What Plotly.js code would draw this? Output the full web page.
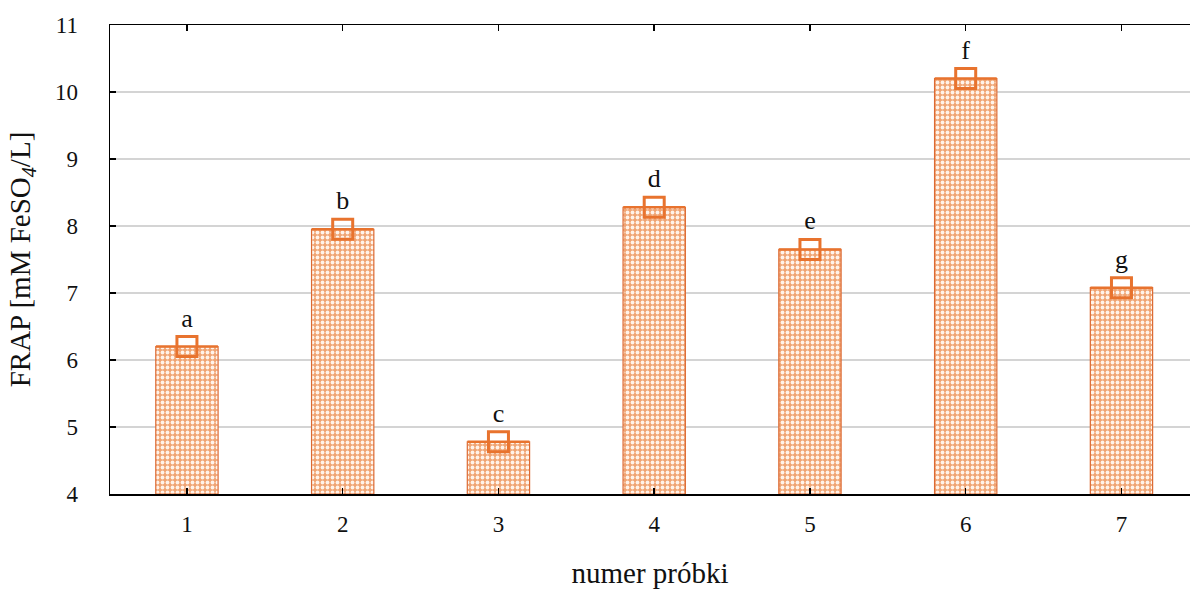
<!DOCTYPE html>
<html>
<head>
<meta charset="utf-8">
<script src="https://cdn.plot.ly/plotly-3.0.1.min.js"></script>
<style>html,body{margin:0;padding:0;background:#fff;}#chart{width:1190px;height:595px;}</style>
</head>
<body>
<div id="chart"></div>
<script>
const categories = [1, 2, 3, 4, 5, 6, 7];
const frapMeans = [6.20, 7.95, 4.78, 8.28, 7.65, 10.20, 7.08];
const groupLetters = ['a', 'b', 'c', 'd', 'e', 'f', 'g'];
const tickLabels = ['1', '2', '3', '4', '5', '6', '7'];
const axisBase = 4;

const orange = '#e8732e';
const serif = '"Liberation Serif", "DejaVu Serif", serif';

const bars = {
  type: 'bar',
  x: categories,
  y: frapMeans.map(v => v - axisBase),
  base: axisBase,
  width: 0.4,
  marker: {
    color: '#f2ad80',
    line: {color: '#dc6a33', width: 1.2},
    pattern: {shape: '.', fgcolor: '#fff3ea', bgcolor: '#f0a473', size: 5, solidity: 0.45}
  },
  hoverinfo: 'x+y',
  showlegend: false
};

const boxes = {
  type: 'scatter',
  mode: 'markers+text',
  x: categories,
  y: frapMeans,
  text: groupLetters,
  textposition: 'top center',
  textfont: {family: serif, size: 26, color: '#111'},
  marker: {symbol: 'square-open', size: 20, color: orange, line: {color: orange, width: 3}},
  error_y: {type: 'constant', value: 0, width: 31, thickness: 2.5, color: orange},
  cliponaxis: false,
  showlegend: false
};

const layout = {
  width: 1190,
  height: 595,
  margin: {l: 110, r: 0, t: 25, b: 101},
  paper_bgcolor: '#fff',
  plot_bgcolor: '#fff',
  font: {family: serif, size: 23, color: '#111'},
  xaxis: {
    range: [0.506, 7.44],
    tickvals: categories,
    ticktext: tickLabels,
    ticks: 'inside',
    ticklen: 6,
    tickwidth: 1.5,
    tickcolor: '#000',
    showline: true,
    linecolor: '#000',
    linewidth: 1.5,
    mirror: 'ticks',
    showgrid: false,
    zeroline: false,
    ticklabelstandoff: 9,
    tickfont: {family: serif, size: 23, color: '#111'},
    title: {text: 'numer próbki', font: {family: serif, size: 29, color: '#111'}, standoff: 26}
  },
  yaxis: {
    range: [4, 11],
    tickvals: [4, 5, 6, 7, 8, 9, 10, 11],
    ticks: 'inside',
    ticklen: 6,
    tickwidth: 1.5,
    tickcolor: '#000',
    showline: true,
    linecolor: '#000',
    linewidth: 1.5,
    showgrid: true,
    gridcolor: '#d4d4d4',
    gridwidth: 1.5,
    zeroline: false,
    ticklabelstandoff: 26,
    tickfont: {family: serif, size: 23, color: '#111'},
    title: {text: 'FRAP [mM FeSO<sub><i>4</i></sub>/L]', font: {family: serif, size: 29, color: '#111'}, standoff: 16}
  }
};

Plotly.newPlot('chart', [bars, boxes], layout, {staticPlot: true});
</script>
</body>
</html>
